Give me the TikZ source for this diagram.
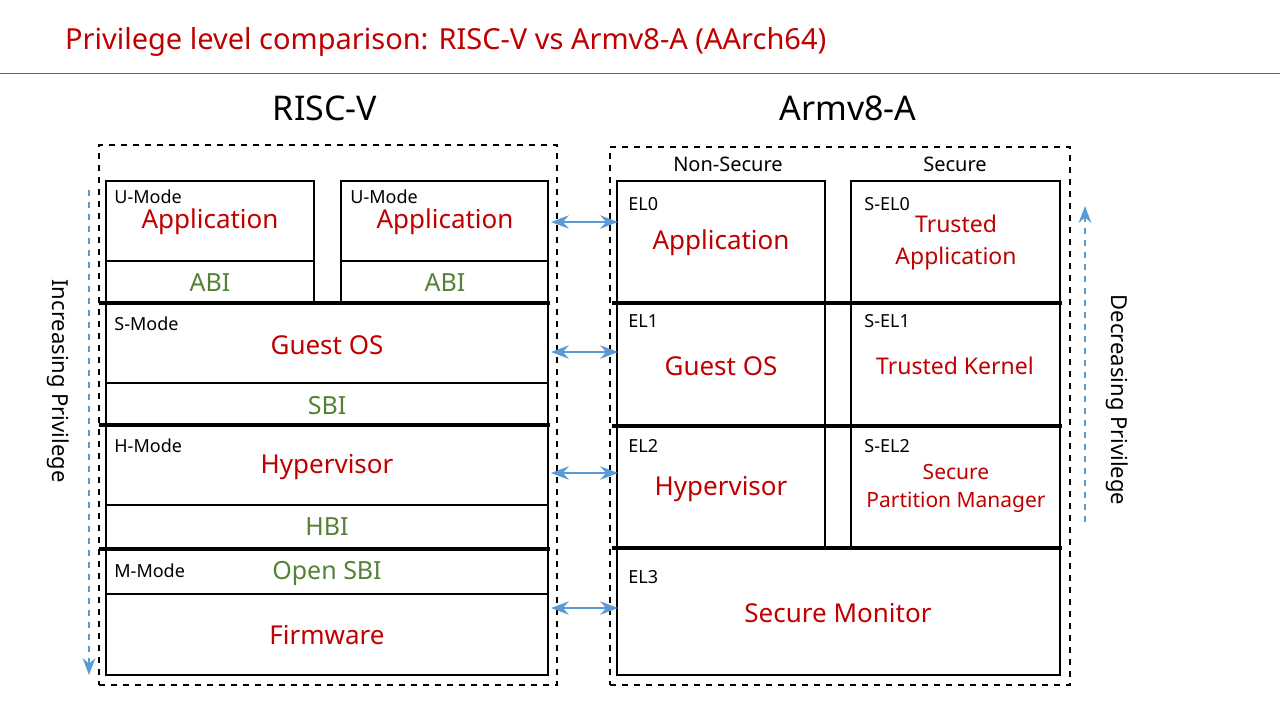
\documentclass[tikz,border=0pt]{standalone}
\usepackage{fontspec}
\setmainfont{Noto Sans}
\usetikzlibrary{arrows.meta}
\definecolor{aRed}{HTML}{C00000}
\definecolor{aGreen}{HTML}{548235}
\definecolor{aBlue}{HTML}{5B9BD5}

\begin{document}
\begin{tikzpicture}[x=0.5pt,y=-0.5pt,>=Stealth]
		\tikzset{
			BOX/.style={draw=black, line width=0.8pt, inner sep=0pt},
			sepline/.style={line width=1.6pt},
			modetag/.style={font=\bfseries\fontsize{9}{10}\selectfont, anchor=west, inner sep=0pt},
			lvl/.style={font=\bfseries\fontsize{13}{15}\selectfont, text=aRed, align=center},
			lvlsmall/.style={font=\bfseries\fontsize{10.5}{14}\selectfont, text=aRed, align=center},
			iface/.style={font=\bfseries\fontsize{12.5}{14}\selectfont, text=aGreen},
			link/.style={<->, aBlue, line width=1.3pt},
			frame/.style={draw, dashed, line width=0.7pt}
		}

		\useasboundingbox (0,0) rectangle (1280,720);

		% title
		\node[font=\bfseries\fontsize{14.5}{16}\selectfont, text=aRed, anchor=west] (title) at (58,42) {Privilege level comparison: RISC-V vs Armv8-A (AArch64)};
		\draw[aRed!80, line width=0.5pt] (0,73) -- (1280,73);
		\node[font=\bfseries\fontsize{17}{19}\selectfont] (hRisc) at (325,108) {RISC-V};
		\node[font=\bfseries\fontsize{17}{19}\selectfont] (hArm) at (848,108) {Armv8-A};

		% dashed frames
		\node[frame, minimum width=229pt, minimum height=270pt] (fRisc) at (328,415) {};
		\node[frame, minimum width=230pt, minimum height=269pt] (fArm) at (840,416) {};

		% RISC-V side
		\node[BOX, minimum width=104pt, minimum height=61pt] (uOne) at (210,242) {};
		\node[BOX, minimum width=103.5pt, minimum height=61pt] (uTwo) at (444.5,242) {};
		\node[BOX, minimum width=221pt, minimum height=61pt] (sMode) at (327,364) {};
		\node[BOX, minimum width=221pt, minimum height=62pt] (hMode) at (327,487) {};
		\node[BOX, minimum width=221pt, minimum height=63pt] (mMode) at (327,612) {};
		\draw[BOX] (uOne.west |- 0,261) -- (uOne.east |- 0,261);
		\draw[BOX] (uTwo.west |- 0,261) -- (uTwo.east |- 0,261);
		\draw[BOX] (sMode.west |- 0,383) -- (sMode.east |- 0,383);
		\draw[BOX] (hMode.west |- 0,505) -- (hMode.east |- 0,505);
		\draw[BOX] (mMode.west |- 0,594) -- (mMode.east |- 0,594);
		\draw[sepline] (99,303) -- (550,303);
		\draw[sepline] (99,425) -- (550,425);
		\draw[sepline] (99,549) -- (550,549);

		\node[modetag] (tUOne) at (114,197) {U-Mode};
		\node[modetag] (tUTwo) at (350,197) {U-Mode};
		\node[modetag] (tS) at (114,324) {S-Mode};
		\node[modetag] (tH) at (114,446) {H-Mode};
		\node[modetag] (tM) at (114,571) {M-Mode};
		\node[lvl] (nAppOne) at (210,222) {Application};
		\node[lvl] (nAppTwo) at (445,222) {Application};
		\node[lvl] (nGuest) at (327,345) {Guest OS};
		\node[lvl] (nHyp) at (327,467) {Hypervisor};
		\node[lvl] (nFirm) at (327,635) {Firmware};
		\node[iface] (iAbiOne) at (210,283) {ABI};
		\node[iface] (iAbiTwo) at (445,283) {ABI};
		\node[iface] (iSbi) at (327,406) {SBI};
		\node[iface] (iHbi) at (327,527) {HBI};
		\node[iface] (iOsbi) at (327,573) {Open SBI};

		% Armv8-A side
		\node[font=\bfseries\fontsize{10}{12}\selectfont] (hNs) at (728,164) {Non-Secure};
		\node[font=\bfseries\fontsize{10}{12}\selectfont] (hSec) at (955,164) {Secure};
		\node[BOX, minimum width=104pt, minimum height=61pt] (elZer) at (721,242) {};
		\node[BOX, minimum width=104.5pt, minimum height=61pt] (selZer) at (955.5,242) {};
		\node[BOX, minimum width=104pt, minimum height=61.5pt] (elOne) at (721,364.5) {};
		\node[BOX, minimum width=104.5pt, minimum height=61.5pt] (selOne) at (955.5,364.5) {};
		\node[BOX, minimum width=104pt, minimum height=61pt] (elTwo) at (721,487) {};
		\node[BOX, minimum width=104.5pt, minimum height=61pt] (selTwo) at (955.5,487) {};
		\node[BOX, minimum width=221.5pt, minimum height=63.5pt] (elThr) at (838.5,611.5) {};
		\draw[sepline] (612,303) -- (1062,303);
		\draw[sepline] (612,426) -- (1062,426);
		\draw[sepline] (612,548) -- (1062,548);

		\node[modetag] (tEZer) at (628,204) {EL0};
		\node[modetag] (tSZer) at (864,204) {S-EL0};
		\node[modetag] (tEOne) at (628,321) {EL1};
		\node[modetag] (tSOne) at (864,321) {S-EL1};
		\node[modetag] (tETwo) at (628,446) {EL2};
		\node[modetag] (tSTwo) at (864,446) {S-EL2};
		\node[modetag] (tEThr) at (628,577) {EL3};
		\node[lvl] (nAppA) at (721,243) {Application};
		\node[lvlsmall, font=\bfseries\fontsize{11.5}{16}\selectfont] (nTApp) at (956,243) {Trusted\\Application};
		\node[lvl] (nGuestA) at (721,366) {Guest OS};
		\node[lvlsmall, font=\bfseries\fontsize{11.5}{14}\selectfont] (nTKer) at (955,366) {Trusted Kernel};
		\node[lvl] (nHypA) at (721,489) {Hypervisor};
		\node[lvlsmall] (nSpm) at (956,488) {Secure\\Partition Manager};
		\node[lvl] (nMon) at (838,613) {Secure Monitor};

		% links between the two sides
		\coordinate (aOneL) at (551,222);  \coordinate (aOneR) at (618,222);
		\coordinate (aTwoL) at (551,352);  \coordinate (aTwoR) at (618,352);
		\coordinate (aThrL) at (551,473);  \coordinate (aThrR) at (618,473);
		\coordinate (aFouL) at (551,608);  \coordinate (aFouR) at (618,608);
		\draw[link] (aOneL) -- (aOneR);
		\draw[link] (aTwoL) -- (aTwoR);
		\draw[link] (aThrL) -- (aThrR);
		\draw[link] (aFouL) -- (aFouR);

		% privilege arrows
		\coordinate (pLTop) at (89,190); \coordinate (pLBot) at (89,675);
		\coordinate (pRBot) at (1085,522); \coordinate (pRTop) at (1085,206);
		\draw[->, aBlue, dashed, line width=1.2pt] (pLTop) -- (pLBot);
		\draw[->, aBlue, dashed, line width=1.2pt] (pRBot) -- (pRTop);
		\node[font=\bfseries\fontsize{11}{13}\selectfont, rotate=-90] (lInc) at (58,381) {Increasing Privilege};
		\node[font=\bfseries\fontsize{11}{13}\selectfont, rotate=-90] (lDec) at (1117,400) {Decreasing Privilege};
\end{tikzpicture}
\end{document}
